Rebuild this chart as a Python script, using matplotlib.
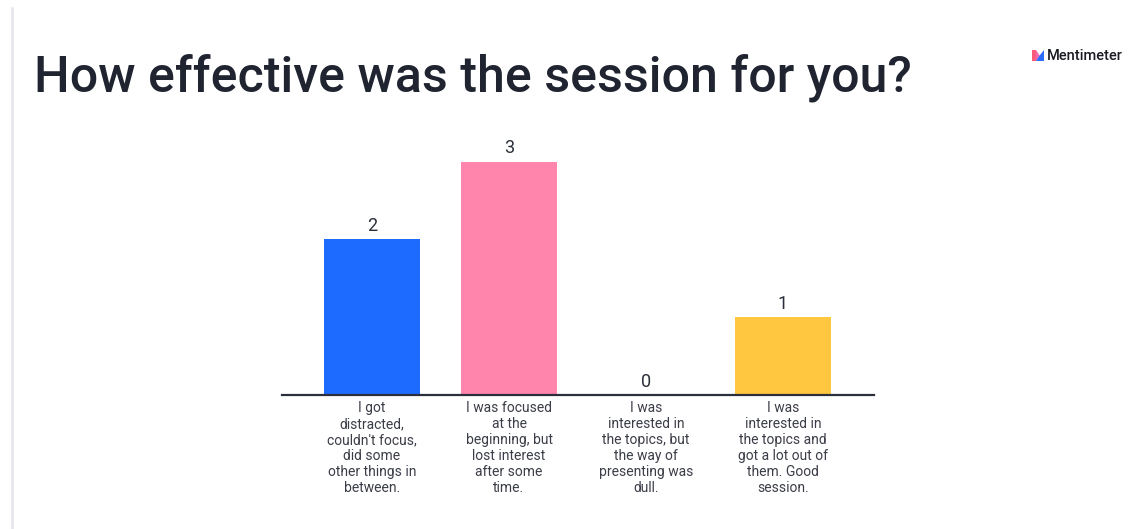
import matplotlib
matplotlib.use("Agg")
import matplotlib.pyplot as plt
from matplotlib.patches import Polygon
from matplotlib.lines import Line2D

plt.rcParams['font.family'] = ['Roboto', 'DejaVu Sans']

title = "How effective was the session for you?"
categories = [
    "I got\ndistracted,\ncouldn't focus,\ndid some\nother things in\nbetween.",
    "I was focused\nat the\nbeginning, but\nlost interest\nafter some\ntime.",
    "I was\ninterested in\nthe topics, but\nthe way of\npresenting was\ndull.",
    "I was\ninterested in\nthe topics and\ngot a lot out of\nthem. Good\nsession.",
]
votes = [2, 3, 0, 1]
bar_colors = ["#1d6bff", "#ff85ad", "#9ad0b3", "#ffc63f"]

W, H = 1136, 529
fig = plt.figure(figsize=(W / 100, H / 100), dpi=100)
fig.patch.set_facecolor("white")

ax = fig.add_axes([282 / W, 1 - 395 / H, 592 / W, 264.5 / H])
x = list(range(len(votes)))
ax.bar(x, votes, width=0.70, color=bar_colors, zorder=2)
ax.set_xlim(-0.657, 3.664)
ax.set_ylim(0, 3.4)
for s in ("top", "right", "left"):
    ax.spines[s].set_visible(False)
ax.spines["bottom"].set_color("#2b2f3b")
ax.spines["bottom"].set_linewidth(1.6)
ax.set_yticks([])
ax.set_xticks([])
ax.patch.set_alpha(0)

for xi, v in zip(x, votes):
    ax.annotate(str(v), (xi, v), xytext=(0, 3), textcoords="offset points",
                ha="center", va="bottom", fontsize=13, color="#2a2e38")
    ax.annotate(categories[xi], (xi, 0), xytext=(0, -4.5), textcoords="offset points",
                ha="center", va="top", fontsize=10, color="#3b3e48",
                linespacing=1.18, annotation_clip=False)

# Title
fig.text(34 / W, 1 - 91 / H, title, fontsize=36.1, color="#1f2430",
         ha="left", va="baseline", fontweight="medium")

# Left page border
fig.add_artist(Line2D([11.5 / W, 11.5 / W], [0, 1 - 8 / H], color="#e4e5ea",
                      linewidth=1.8, transform=fig.transFigure))

# Brand mark
def fp(px, py):
    return (px / W, 1 - py / H)

fig.add_artist(Polygon([fp(1032, 50), fp(1036, 50), fp(1036, 61), fp(1032, 61)],
                       closed=True, transform=fig.transFigure, color="#ff5a7a", lw=0))
fig.add_artist(Polygon([fp(1036, 50), fp(1040, 56), fp(1036, 61)],
                       closed=True, transform=fig.transFigure, color="#f06ab0", lw=0))
fig.add_artist(Polygon([fp(1040, 55), fp(1044, 50), fp(1044, 61), fp(1036, 61)],
                       closed=True, transform=fig.transFigure, color="#2a6cff", lw=0))
fig.text(1047 / W, 1 - 56 / H, "Mentimeter", fontsize=10.5, fontweight="medium",
         color="#1a1c22", ha="left", va="center")

fig.savefig("out.png", dpi=100, facecolor="white")
